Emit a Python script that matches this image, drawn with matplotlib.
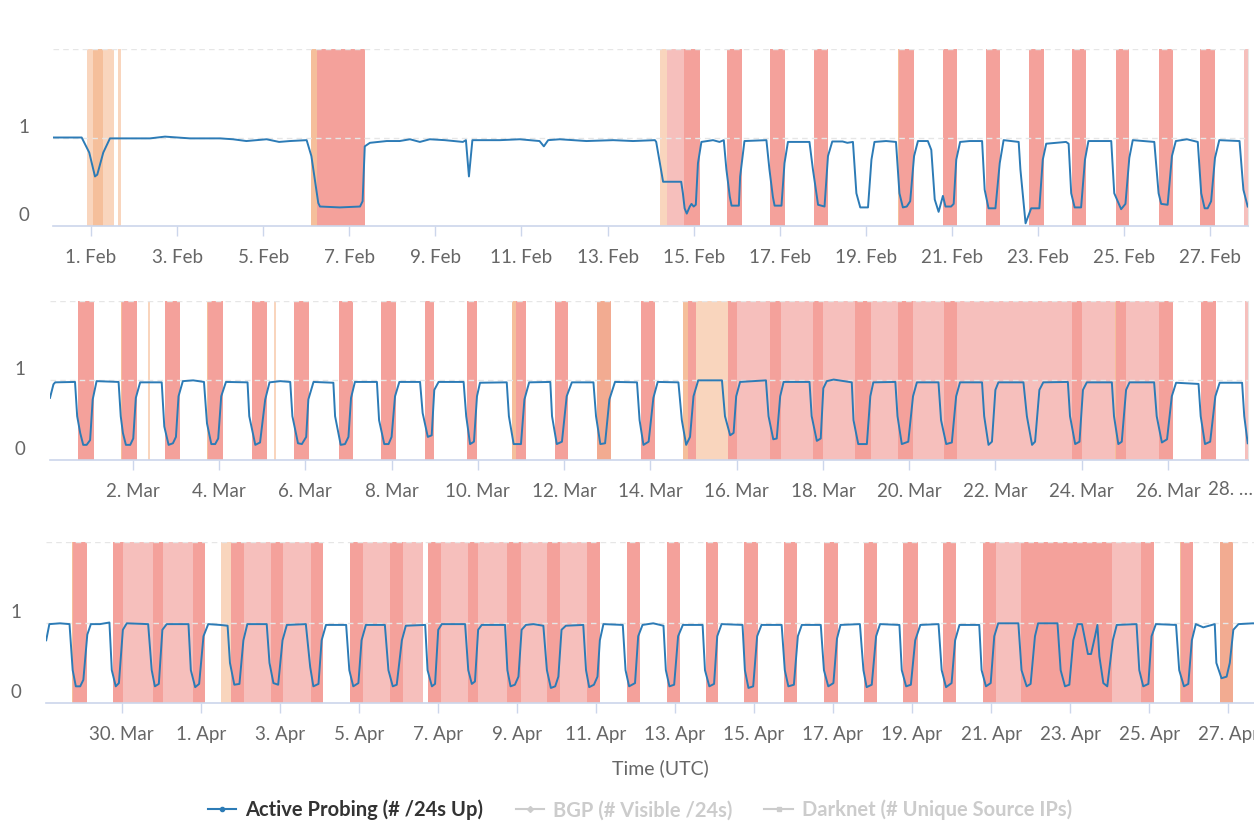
import numpy as np
import matplotlib
matplotlib.use("Agg")
import matplotlib.pyplot as plt
from matplotlib.lines import Line2D

plt.rcParams['font.family'] = ['Lato', 'DejaVu Sans']

# ---- data -------------------------------------------------------------------
# times are in days from the panel's base date (UTC), values are the normalised
# "Active Probing (# /24s Up)" signal

p1_base = '2019-02-01'
p1_points = [
    (-0.875, 1.0), (-0.50, 1.0), (-0.216, 1.0), (-0.04, 0.83), (0.093, 0.56), (0.146, 0.58),
    (0.286, 0.83), (0.441, 0.99), (0.9, 0.99), (1.37, 0.99), (1.72, 1.01), (2.30, 0.99),
    (3.0, 0.99), (3.3, 0.98), (3.61, 0.96), (4.08, 0.98), (4.37, 0.95), (4.62, 0.96),
    (5.01, 0.97), (5.12, 0.79), (5.28, 0.26), (5.32, 0.22), (5.78, 0.21), (6.25, 0.22),
    (6.31, 0.28), (6.36, 0.90), (6.48, 0.94), (6.87, 0.96), (7.17, 0.96), (7.41, 0.98),
    (7.64, 0.95), (7.87, 0.98), (8.22, 0.97), (8.64, 0.95), (8.71, 0.97), (8.78, 0.56),
    (8.86, 0.97), (9.50, 0.97), (9.96, 0.98), (10.42, 0.96), (10.52, 0.90), (10.62, 0.97),
    (10.89, 0.98), (11.51, 0.96), (12.13, 0.97), (12.59, 0.96), (13.10, 0.97), (13.13, 0.95),
    (13.29, 0.50), (13.71, 0.50), (13.75, 0.37), (13.79, 0.20), (13.84, 0.14), (13.91, 0.22),
    (13.95, 0.25), (14.00, 0.22), (14.05, 0.24), (14.10, 0.71), (14.18, 0.95), (14.45, 0.97),
    (14.60, 0.95), (14.70, 0.97), (14.76, 0.64), (14.84, 0.33), (14.88, 0.23), (15.05, 0.23),
    (15.08, 0.56), (15.18, 0.96), (15.69, 0.97), (15.76, 0.64), (15.84, 0.33), (15.88, 0.23),
    (16.04, 0.23), (16.11, 0.71), (16.19, 0.95), (16.69, 0.95), (16.77, 0.64), (16.89, 0.24),
    (17.04, 0.22), (17.12, 0.79), (17.22, 0.955), (17.46, 0.955), (17.57, 0.94), (17.70, 0.95),
    (17.78, 0.37), (17.87, 0.21), (18.05, 0.21), (18.13, 0.75), (18.20, 0.95), (18.47, 0.96),
    (18.70, 0.95), (18.78, 0.37), (18.86, 0.21), (18.95, 0.22), (19.03, 0.28), (19.12, 0.79),
    (19.21, 0.96), (19.44, 0.96), (19.52, 0.86), (19.60, 0.30), (19.69, 0.16), (19.79, 0.34),
    (19.85, 0.22), (19.98, 0.22), (20.04, 0.25), (20.10, 0.75), (20.19, 0.95), (20.41, 0.96),
    (20.70, 0.96), (20.76, 0.41), (20.85, 0.20), (21.01, 0.20), (21.11, 0.71), (21.20, 0.97),
    (21.55, 0.95), (21.59, 0.64), (21.71, 0.03), (21.84, 0.20), (22.03, 0.20), (22.11, 0.75),
    (22.19, 0.93), (22.65, 0.95), (22.71, 0.93), (22.77, 0.37), (22.85, 0.21), (23.00, 0.21),
    (23.09, 0.75), (23.17, 0.96), (23.70, 0.96), (23.77, 0.37), (23.93, 0.19), (24.03, 0.25),
    (24.12, 0.77), (24.20, 0.97), (24.70, 0.95), (24.80, 0.37), (24.86, 0.25), (25.01, 0.24),
    (25.11, 0.79), (25.20, 0.96), (25.46, 0.98), (25.71, 0.95), (25.79, 0.37), (25.87, 0.20),
    (25.94, 0.20), (26.02, 0.28), (26.11, 0.77), (26.21, 0.97), (26.68, 0.96), (26.77, 0.41),
    (26.87, 0.22),
]
p1_bands = [
    (-0.10, 0.53, 'lorange'), (0.04, 0.27, 'orange'), (0.63, 0.69, 'lorange'),
    (5.11, 5.25, 'orange'), (5.25, 6.36, 'red'), (13.21, 13.38, 'lorange'),
    (13.38, 13.77, 'pink'), (13.77, 14.14, 'red'), (14.77, 15.12, 'red'), (15.78, 16.13, 'red'),
    (16.79, 17.12, 'red'), (18.74, 18.78, 'orange'), (18.78, 19.12, 'red'), (19.80, 20.12, 'red'),
    (20.78, 21.11, 'red'), (21.80, 22.13, 'red'), (22.78, 23.12, 'red'), (23.80, 24.11, 'red'),
    (24.80, 25.13, 'red'), (25.77, 26.10, 'red'), (26.79, 26.87, 'pink'),
]

p2_base = '2019-03-01'
p2_points = [
    (-0.92, 0.78), (-0.84, 0.95), (-0.80, 0.975), (-0.34, 0.98), (-0.29, 0.55), (-0.22, 0.34),
    (-0.15, 0.19), (-0.07, 0.19), (0.01, 0.25), (0.07, 0.76), (0.16, 0.99), (0.67, 0.98),
    (0.72, 0.55), (0.77, 0.34), (0.84, 0.19), (0.94, 0.19), (1.01, 0.27), (1.07, 0.78),
    (1.17, 0.975), (1.67, 0.975), (1.73, 0.42), (1.83, 0.19), (1.93, 0.21), (2.00, 0.29),
    (2.06, 0.80), (2.16, 0.99), (2.40, 1.0), (2.65, 0.98), (2.72, 0.46), (2.82, 0.20),
    (2.91, 0.20), (2.98, 0.27), (3.05, 0.80), (3.16, 0.98), (3.66, 0.975), (3.70, 0.55),
    (3.84, 0.19), (3.95, 0.22), (4.07, 0.76), (4.17, 0.975), (4.42, 0.99), (4.65, 0.98),
    (4.70, 0.55), (4.83, 0.21), (4.92, 0.20), (5.02, 0.29), (5.07, 0.76), (5.19, 0.98),
    (5.65, 0.97), (5.69, 0.55), (5.82, 0.19), (5.92, 0.20), (6.00, 0.29), (6.06, 0.78),
    (6.15, 0.98), (6.66, 0.98), (6.71, 0.50), (6.83, 0.20), (6.93, 0.20), (7.00, 0.29),
    (7.08, 0.80), (7.18, 0.98), (7.66, 0.98), (7.72, 0.59), (7.84, 0.29), (7.93, 0.31),
    (7.99, 0.88), (8.09, 0.98), (8.67, 0.98), (8.73, 0.55), (8.82, 0.20), (8.91, 0.23),
    (8.98, 0.80), (9.05, 0.97), (9.67, 0.975), (9.72, 0.55), (9.83, 0.20), (10.00, 0.20),
    (10.08, 0.76), (10.19, 0.975), (10.68, 0.98), (10.72, 0.55), (10.83, 0.20), (10.95, 0.23),
    (11.06, 0.80), (11.18, 0.975), (11.68, 0.975), (11.74, 0.55), (11.84, 0.20), (11.95, 0.21),
    (12.05, 0.76), (12.18, 0.98), (12.69, 0.975), (12.75, 0.50), (12.84, 0.19), (12.96, 0.23),
    (13.07, 0.78), (13.17, 0.98), (13.65, 0.975), (13.73, 0.50), (13.83, 0.19), (13.92, 0.29),
    (14.00, 0.80), (14.11, 1.0), (14.66, 1.0), (14.73, 0.55), (14.85, 0.31), (14.93, 0.34),
    (14.99, 0.80), (15.08, 0.98), (15.68, 1.0), (15.74, 0.55), (15.85, 0.26), (15.93, 0.27),
    (16.01, 0.80), (16.09, 0.98), (16.69, 0.98), (16.74, 0.55), (16.86, 0.24), (16.95, 0.27),
    (17.01, 0.90), (17.09, 0.99), (17.25, 1.01), (17.67, 0.975), (17.71, 0.50), (17.82, 0.20),
    (18.02, 0.20), (18.10, 0.80), (18.17, 0.975), (18.68, 0.98), (18.73, 0.55), (18.83, 0.20),
    (18.98, 0.23), (19.09, 0.80), (19.18, 0.975), (19.68, 0.975), (19.74, 0.50), (19.86, 0.20),
    (19.99, 0.22), (20.09, 0.80), (20.18, 0.975), (20.69, 0.975), (20.74, 0.55), (20.84, 0.19),
    (20.92, 0.23), (21.00, 0.88), (21.07, 0.975), (21.65, 0.975), (21.73, 0.55), (21.85, 0.19),
    (21.92, 0.23), (22.02, 0.88), (22.11, 0.975), (22.68, 0.98), (22.73, 0.55), (22.85, 0.20),
    (22.95, 0.23), (23.03, 0.88), (23.12, 0.975), (23.70, 0.975), (23.75, 0.55), (23.85, 0.20),
    (23.93, 0.23), (24.03, 0.88), (24.11, 0.975), (24.68, 0.975), (24.74, 0.55), (24.86, 0.22),
    (24.98, 0.26), (25.09, 0.80), (25.19, 0.97), (25.71, 0.955), (25.76, 0.55), (25.86, 0.20),
    (25.98, 0.23), (26.10, 0.80), (26.20, 0.97), (26.72, 0.97), (26.77, 0.55), (26.85, 0.21),
]
p2_bands = [
    (15.02, 25.12, 'pink'),
    (-0.26, 0.09, 'red'), (0.72, 0.74, 'orange'), (0.74, 1.09, 'red'), (1.36, 1.40, 'lorange'),
    (1.75, 2.10, 'red'), (2.73, 2.75, 'orange'), (2.75, 3.10, 'red'), (3.76, 4.11, 'red'),
    (4.28, 4.32, 'lorange'), (4.74, 5.09, 'red'), (5.77, 6.10, 'red'), (6.75, 7.10, 'red'),
    (7.78, 7.99, 'red'), (8.76, 8.99, 'red'), (9.79, 9.89, 'orange'), (9.89, 10.11, 'red'),
    (10.78, 11.10, 'red'), (11.76, 12.09, 'salmon'), (12.78, 13.11, 'red'),
    (13.75, 13.87, 'orange'), (13.87, 14.05, 'red'), (14.05, 14.79, 'lorange'),
    (14.79, 15.02, 'red'), (15.78, 16.03, 'red'), (16.78, 17.01, 'red'), (17.75, 18.11, 'red'),
    (18.75, 19.10, 'red'), (19.80, 20.12, 'red'), (22.77, 23.00, 'red'), (23.78, 23.80, 'orange'),
    (23.80, 24.03, 'red'), (24.80, 25.12, 'red'), (25.77, 26.11, 'red'), (26.79, 26.85, 'pink'),
]

p3_base = '2019-04-01'
p3_points = [
    (-3.91, 0.78), (-3.83, 0.98), (-3.56, 0.99), (-3.32, 0.98), (-3.24, 0.41), (-3.16, 0.21),
    (-3.05, 0.21), (-2.97, 0.29), (-2.87, 0.85), (-2.78, 0.98), (-2.55, 0.98), (-2.31, 1.0),
    (-2.25, 0.41), (-2.15, 0.21), (-2.07, 0.25), (-1.97, 0.91), (-1.87, 0.99), (-1.33, 0.98),
    (-1.24, 0.41), (-1.16, 0.21), (-1.06, 0.24), (-0.97, 0.91), (-0.86, 0.98), (-0.31, 0.98),
    (-0.25, 0.41), (-0.14, 0.20), (-0.04, 0.24), (0.07, 0.83), (0.19, 0.98), (0.49, 0.97),
    (0.68, 0.96), (0.74, 0.50), (0.85, 0.23), (0.98, 0.24), (1.08, 0.78), (1.18, 0.98),
    (1.67, 0.98), (1.74, 0.50), (1.84, 0.25), (1.96, 0.23), (2.07, 0.78), (2.18, 0.97),
    (2.66, 0.98), (2.77, 0.45), (2.85, 0.21), (2.98, 0.24), (3.06, 0.78), (3.17, 0.97),
    (3.68, 0.97), (3.76, 0.41), (3.86, 0.21), (3.99, 0.25), (4.07, 0.78), (4.18, 0.97),
    (4.66, 0.97), (4.75, 0.41), (4.86, 0.21), (4.96, 0.23), (5.09, 0.78), (5.19, 0.96),
    (5.68, 0.97), (5.74, 0.41), (5.85, 0.21), (5.93, 0.24), (6.01, 0.91), (6.10, 0.98),
    (6.69, 0.98), (6.77, 0.41), (6.86, 0.24), (6.94, 0.27), (7.02, 0.91), (7.11, 0.97),
    (7.70, 0.97), (7.76, 0.41), (7.84, 0.21), (7.95, 0.23), (8.04, 0.33), (8.12, 0.91),
    (8.23, 0.97), (8.42, 0.98), (8.67, 0.96), (8.76, 0.41), (8.86, 0.19), (8.97, 0.21),
    (9.05, 0.33), (9.13, 0.91), (9.24, 0.96), (9.68, 0.97), (9.75, 0.41), (9.83, 0.20),
    (9.95, 0.23), (10.04, 0.33), (10.10, 0.78), (10.19, 0.98), (10.68, 0.97), (10.75, 0.41),
    (10.84, 0.21), (10.99, 0.25), (11.07, 0.83), (11.18, 0.97), (11.45, 0.99), (11.71, 0.96),
    (11.77, 0.41), (11.86, 0.21), (11.98, 0.23), (12.08, 0.83), (12.20, 0.97), (12.70, 0.97),
    (12.76, 0.41), (12.87, 0.21), (12.99, 0.24), (13.07, 0.83), (13.18, 0.98), (13.71, 0.97),
    (13.77, 0.41), (13.86, 0.19), (13.98, 0.21), (14.08, 0.83), (14.19, 0.97), (14.70, 0.97),
    (14.78, 0.41), (14.87, 0.21), (15.01, 0.23), (15.11, 0.83), (15.21, 0.97), (15.69, 0.97),
    (15.77, 0.41), (15.88, 0.21), (16.01, 0.25), (16.10, 0.80), (16.19, 0.97), (16.68, 0.98),
    (16.77, 0.41), (16.85, 0.20), (16.98, 0.23), (17.09, 0.83), (17.19, 0.98), (17.68, 0.97),
    (17.74, 0.41), (17.85, 0.21), (17.97, 0.23), (18.08, 0.78), (18.21, 0.97), (18.67, 0.98),
    (18.75, 0.41), (18.86, 0.20), (19.00, 0.25), (19.09, 0.78), (19.20, 0.97), (19.70, 0.97),
    (19.76, 0.41), (19.87, 0.21), (19.99, 0.25), (20.08, 0.83), (20.18, 0.99), (20.69, 0.99),
    (20.77, 0.41), (20.90, 0.21), (21.00, 0.24), (21.11, 0.83), (21.19, 0.99), (21.68, 0.99),
    (21.76, 0.41), (21.87, 0.21), (21.98, 0.23), (22.08, 0.78), (22.19, 0.98), (22.30, 0.98),
    (22.45, 0.61), (22.53, 0.61), (22.63, 0.83), (22.69, 0.97), (22.74, 0.58), (22.84, 0.25),
    (22.94, 0.21), (23.08, 0.78), (23.18, 0.97), (23.68, 0.98), (23.75, 0.41), (23.85, 0.21),
    (23.98, 0.24), (24.06, 0.83), (24.17, 0.98), (24.68, 0.97), (24.76, 0.41), (24.88, 0.21),
    (24.99, 0.24), (25.08, 0.78), (25.18, 0.98), (25.37, 0.94), (25.66, 0.98), (25.70, 0.50),
    (25.83, 0.31), (25.96, 0.33), (26.04, 0.50), (26.13, 0.91), (26.26, 0.98), (26.63, 0.99),
    (26.85, 0.98),
]
p3_bands = [
    (-1.96, -0.20, 'pink'), (1.10, 2.78, 'pink'), (4.10, 5.62, 'pink'), (6.07, 10.10, 'pink'),
    (20.12, 20.76, 'pink'), (23.07, 23.79, 'pink'),
    (-3.25, -3.22, 'orange'), (-3.22, -2.88, 'red'), (-2.23, -1.96, 'red'), (-1.20, -0.95, 'red'),
    (-0.20, 0.11, 'red'), (0.51, 0.77, 'lorange'), (0.77, 1.10, 'red'), (1.77, 2.09, 'red'),
    (2.78, 3.10, 'red'), (3.78, 4.10, 'red'), (4.79, 5.11, 'red'), (5.76, 6.07, 'red'),
    (6.77, 7.02, 'red'), (7.76, 8.10, 'red'), (8.77, 9.09, 'red'), (9.78, 10.10, 'red'),
    (10.78, 11.12, 'red'), (11.81, 12.13, 'red'), (12.79, 13.10, 'red'), (13.75, 14.11, 'red'),
    (14.77, 15.10, 'red'), (15.76, 16.12, 'red'), (16.79, 17.11, 'red'), (17.78, 18.14, 'red'),
    (18.79, 19.11, 'red'), (19.80, 20.12, 'red'), (20.76, 23.07, 'red'), (23.79, 24.11, 'red'),
    (24.78, 24.80, 'orange'), (24.80, 25.12, 'red'), (25.80, 26.12, 'salmon'),
]

# tick dates (every second day) and y labels
p1_ticks = np.arange('2019-02-01', '2019-02-28', 2, dtype='datetime64[D]')
p2_ticks = np.arange('2019-03-02', '2019-03-29', 2, dtype='datetime64[D]')
p3_ticks = np.arange('2019-03-30', '2019-04-28', 2, dtype='datetime64[D]')
y_labels = [0, 1]
series_names = ['Active Probing (# /24s Up)', 'BGP (# Visible /24s)', 'Darknet (# Unique Source IPs)']

# ---- style -------------------------------------------------------------------
band_colors = {'red': '#f4a19b', 'pink': '#f6bfbc', 'lorange': '#f9d5bd',
               'orange': '#f5bf9b', 'salmon': '#f2ab91'}
line_color = '#2c7bb6'
axis_color = '#ccd6eb'
label_color = '#666666'

W, H = 1254, 823
fig = plt.figure(figsize=(W / 100, H / 100), dpi=100)


def to_dt(base, d):
    secs = np.round(np.asarray(d, dtype=float) * 86400).astype(np.int64)
    return np.datetime64(base, 's') + secs.astype('timedelta64[s]')


def draw_panel(box, base, points, bands, xlim, ticks, show_right=True):
    l, t, r, b = box
    ax = fig.add_axes([l / W, 1 - b / H, (r - l) / W, (b - t) / H])
    for s, e, kind in bands:
        ax.axvspan(to_dt(base, s), to_dt(base, e), color=band_colors[kind], lw=0,
                   zorder=0.5 if kind == 'pink' else 0.6)
    for y in (1, 2):
        ax.axhline(y, color='#e6e6e6', lw=1, ls=(0, (4, 3)), zorder=1)
    tt, vv = zip(*points)
    ax.plot(to_dt(base, tt), vv, color=line_color, lw=1.4, zorder=3)
    ax.set_xlim(to_dt(base, xlim[0]), to_dt(base, xlim[1]))
    ax.set_ylim(0, 2)
    ax.set_yticks([])
    for yl in y_labels:
        ax.annotate(str(yl), xy=(0, yl), xycoords=('axes fraction', 'data'),
                    xytext=(-21.5, 7.5), textcoords='offset points',
                    ha='center', va='center', fontsize=13.5, color=label_color)
    lo, hi = ax.get_xlim()
    tk = [d for d in ticks if lo <= matplotlib.dates.date2num(d) <= hi]
    ax.set_xticks(tk)
    ax.set_xticklabels([f"{d.astype(object).day}. {d.astype(object):%b}" for d in tk])
    ax.tick_params(axis='x', length=7, width=1, color=axis_color, labelsize=13.5,
                   labelcolor=label_color, pad=9.5)
    for sp in ('top', 'left'):
        ax.spines[sp].set_visible(False)
    ax.spines['bottom'].set_color(axis_color)
    ax.spines['bottom'].set_linewidth(1.2)
    ax.spines['right'].set_visible(show_right)
    ax.spines['right'].set_color('#e6e6e6')
    return ax


ax1 = draw_panel((53.3, 49, 1247.7, 226), p1_base, p1_points, p1_bands,
                 (-0.875, 26.87), p1_ticks)
ax2 = draw_panel((50, 300.7, 1247.7, 460), p2_base, p2_points, p2_bands,
                 (-0.92, 26.85), p2_ticks)
ax3 = draw_panel((46, 541.7, 1261.8, 703.3), p3_base, p3_points, p3_bands,
                 (-3.915, 26.85), p3_ticks, show_right=False)

# the last March tick sits on the plot edge, its label is shortened
last = p2_ticks[-1]
ax2.annotate(f"{last.astype(object).day}. \u2026", xy=(last, 0),
             xycoords=ax2.get_xaxis_transform(), xytext=(-1, -15),
             textcoords='offset points', ha='right', va='top',
             fontsize=13.5, color=label_color, annotation_clip=False)

fig.text(660 / W, 1 - 768 / H, 'Time (UTC)', ha='center', va='center',
         fontsize=14, color=label_color)

handles = [Line2D([], [], color=line_color, lw=1.5, marker='o', ms=3),
           Line2D([], [], color='#cccccc', lw=1.5, marker='D', ms=3),
           Line2D([], [], color='#cccccc', lw=1.5, marker='s', ms=3)]
leg = fig.legend(handles, series_names, loc='center', ncol=3, frameon=False,
                 bbox_to_anchor=(640 / W, 1 - 810 / H), handlelength=1.4,
                 handletextpad=0.45, columnspacing=1.6,
                 prop={'size': 14.5, 'weight': 'bold'})
for txt, c in zip(leg.get_texts(), ['#333333', '#cccccc', '#cccccc']):
    txt.set_color(c)

fig.savefig('out.png', dpi=100)
